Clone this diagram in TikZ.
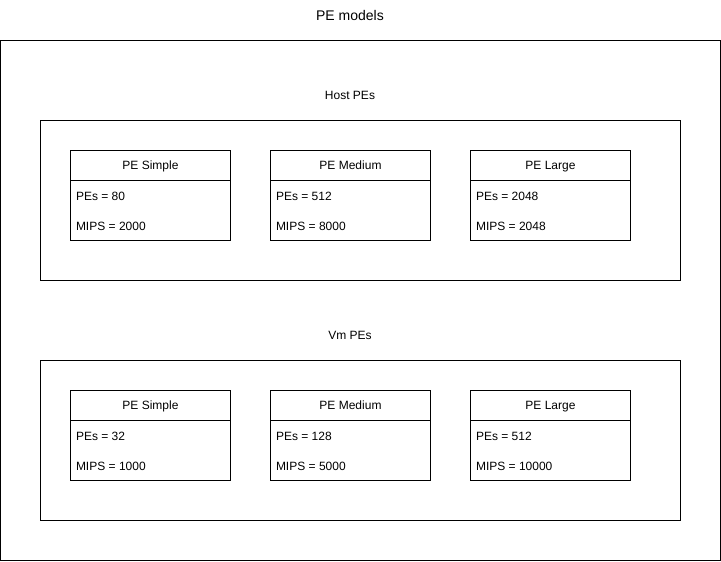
\documentclass[tikz,border=0pt]{standalone}
\usepackage{fontspec}
\setmainfont{Liberation Sans}
\begin{document}
\begin{tikzpicture}[x=0.75pt,y=-0.75pt,
  every node/.style={inner sep=0pt,outer sep=0pt},
  frame/.style={draw=black,line width=0.75pt,anchor=north west,fill=white},
  container/.style={frame,minimum width=640*0.75pt,minimum height=160*0.75pt},
  head/.style={frame,minimum width=160*0.75pt,minimum height=30*0.75pt,font=\fontsize{9}{11}\selectfont,text height=6.5pt,text depth=0pt},
  body/.style={frame,minimum width=160*0.75pt,minimum height=60*0.75pt},
  attr/.style={anchor=west,font=\fontsize{9}{11}\selectfont},
  lbl/.style={font=\fontsize{9}{11}\selectfont},
  ttl/.style={font=\fontsize{10.5}{13}\selectfont}]
\useasboundingbox (0,0) rectangle (721,561);
\node[frame,minimum width=720*0.75pt,minimum height=520*0.75pt] (outer) at (0.5,40.5) {};
\node[ttl] (title) at (350,15.5) {PE models};
\node[lbl] (hostlbl) at (350,95.5) {Host PEs};
\node[lbl] (vmlbl) at (350,335.5) {Vm PEs};
\node[container] (host) at (40.5,120.5) {};
\node[container] (vm) at (40.5,360.5) {};
% Host classes
\node[body] (h1b) at (70.5,180.5) {};
\node[head] (h1) at (70.5,150.5) {PE Simple};
\node[attr] (h1a) at (76,196) {PEs = 80};
\node[attr] (h1c) at (76,226) {MIPS = 2000};
\node[body] (h2b) at (270.5,180.5) {};
\node[head] (h2) at (270.5,150.5) {PE Medium};
\node[attr] (h2a) at (276,196) {PEs = 512};
\node[attr] (h2c) at (276,226) {MIPS = 8000};
\node[body] (h3b) at (470.5,180.5) {};
\node[head] (h3) at (470.5,150.5) {PE Large};
\node[attr] (h3a) at (476,196) {PEs = 2048};
\node[attr] (h3c) at (476,226) {MIPS = 2048};
% Vm classes
\node[body] (v1b) at (70.5,420.5) {};
\node[head] (v1) at (70.5,390.5) {PE Simple};
\node[attr] (v1a) at (76,436) {PEs = 32};
\node[attr] (v1c) at (76,466) {MIPS = 1000};
\node[body] (v2b) at (270.5,420.5) {};
\node[head] (v2) at (270.5,390.5) {PE Medium};
\node[attr] (v2a) at (276,436) {PEs = 128};
\node[attr] (v2c) at (276,466) {MIPS = 5000};
\node[body] (v3b) at (470.5,420.5) {};
\node[head] (v3) at (470.5,390.5) {PE Large};
\node[attr] (v3a) at (476,436) {PEs = 512};
\node[attr] (v3c) at (476,466) {MIPS = 10000};
\end{tikzpicture}
\end{document}
